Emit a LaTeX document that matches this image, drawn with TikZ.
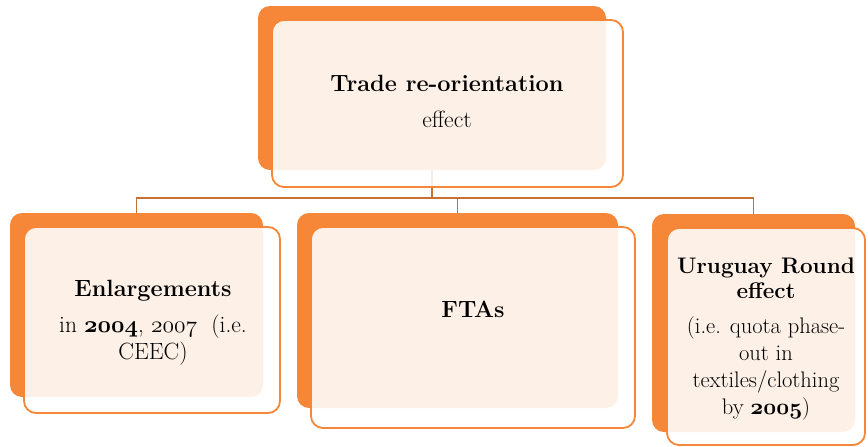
\RequirePackage{fix-cm}
\documentclass[tikz,border=0pt]{standalone}
\newcommand\boldold[1]{{\usefont{OML}{cmm}{b}{it}#1}}
\newcommand\plainold[1]{{\usefont{OML}{cmm}{m}{it}#1}}
\begin{document}
\definecolor{accent}{RGB}{246,134,56}
\definecolor{linkclr}{RGB}{200,112,52}
\begin{tikzpicture}[x=1pt,y=-1pt,
  backbox/.style={fill=accent, draw=none, rounded corners=12pt, inner sep=0pt},
  frontbox/.style={draw=accent, line width=1.8pt, fill=white, fill opacity=0.88,
    rounded corners=12pt, inner sep=0pt},
  link/.style={draw=linkclr, line width=1.5pt},
  label/.style={align=center, inner sep=0pt, font=\fontsize{23.5}{27}\selectfont}]
\useasboundingbox[fill=white] (0,0) rectangle (868,447);

% back plates
\node[backbox, minimum width=348pt, minimum height=164pt] (topB) at (432,88) {};
\node[backbox, minimum width=253pt, minimum height=184pt] (leftB) at (136.5,305) {};
\node[backbox, minimum width=321pt, minimum height=195pt] (midB) at (457.5,310.5) {};
\node[backbox, minimum width=203pt, minimum height=218pt] (rightB) at (753.5,323) {};

% tree connectors
\coordinate (hub) at (432,198);
\draw[link] (topB.south) -- (hub);
\draw[link] (hub) -| (leftB.north);
\draw[link] (hub) -| (midB.north);
\draw[link] (hub) -| (rightB.north);

% front panels
\node[frontbox, minimum width=351pt, minimum height=167pt] (topF) at (447.5,103.5) {};
\node[frontbox, minimum width=256pt, minimum height=186pt] (leftF) at (152,320) {};
\node[frontbox, minimum width=324pt, minimum height=201pt] (midF) at (473,327.5) {};
\node[frontbox, minimum width=198pt, minimum height=217pt] (rightF) at (766,336.5) {};

% labels
\node[label] (topT) at (447,101) {\textbf{Trade re-orientation}\\[9pt] effect};
\node[label] (leftT) at (153,323) {\textbf{Enlargements}\\[9pt]
  in \boldold{2004}, \plainold{2007}\ \ (i.e.\\ CEEC)};
\node[label] (midT) at (473,309) {\textbf{FTAs}};
\node[label, font=\fontsize{22.5}{27}\selectfont] (rightT) at (766,339)
  {\textbf{Uruguay Round}\\[-1pt] \textbf{effect}\\[8pt]
  (i.e. quota phase-\\ out in\\ textiles/clothing\\ by \boldold{2005})};
\end{tikzpicture}
\end{document}
